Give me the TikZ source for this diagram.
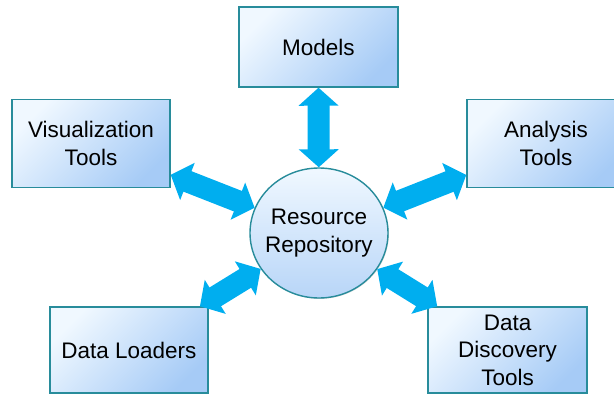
\documentclass[tikz,border=0pt]{standalone}
\usepackage{fontspec}
\setmainfont{Liberation Sans}
\usetikzlibrary{positioning}
\usetikzlibrary{shapes.geometric}
\usetikzlibrary{shadows}
\usetikzlibrary{arrows.meta}
\definecolor{toolrim}{RGB}{40,140,155}
\definecolor{toollight}{RGB}{240,248,255}
\definecolor{tooldark}{RGB}{166,203,246}
\definecolor{linkblue}{RGB}{0,174,239}
\tikzset{
    % Broad block arrow heads for the links
    >={Triangle[width=9.75mm,length=4.5mm]},
%
    % Common look of the boxes round the hub
    tool box/.style={
        draw=toolrim, line width=1pt, rectangle, align=center,
        minimum width=3.95cm, minimum height=2.2cm,
        top color=toollight, bottom color=tooldark, shading angle=45,
        drop shadow={opacity=.3, shadow xshift=.6pt, shadow yshift=-.6pt}},
%
    % The repository in the middle (text may poke past the inner box)
    hub/.style={
        draw=toolrim, line width=1pt, ellipse, align=center,
        inner xsep=-3.5mm, inner ysep=0pt,
        minimum width=3.45cm, minimum height=3.25cm,
        top color=toollight, bottom color=tooldark!80,
        drop shadow={opacity=.3, shadow xshift=.6pt, shadow yshift=-.6pt}},
%
    % Two-way links between hub and tools
    link/.style={<->, line width=5.5mm, color=linkblue}}

\begin{document}
\begin{tikzpicture}

\tikzset{every node/.style={font=\fontsize{16}{19.5}\selectfont}}

\clip (0,0) rectangle (15.35,9.95);

\node (repo) [hub] at (7.975,4.125) {Resource\\Repository};

\node (models) [tool box, minimum width=3.975cm, minimum height=2cm]
    at (7.96,8.775) {Models};
\node (vis) [tool box] at (2.275,6.36) {Visualization\\Tools};
\node (analysis) [tool box] at (13.65,6.36) {Analysis\\Tools};
\node (loaders) [tool box, minimum height=2.15cm]
    at (3.225,1.2) {Data Loaders};
\node (discovery) [tool box, minimum width=3.975cm, minimum height=2.15cm]
    at (12.69,1.2) {Data\\Discovery\\Tools};

\foreach \tool in {models, vis, analysis, loaders, discovery}
    \draw [link] (repo) -- (\tool);

\end{tikzpicture}
\end{document}
